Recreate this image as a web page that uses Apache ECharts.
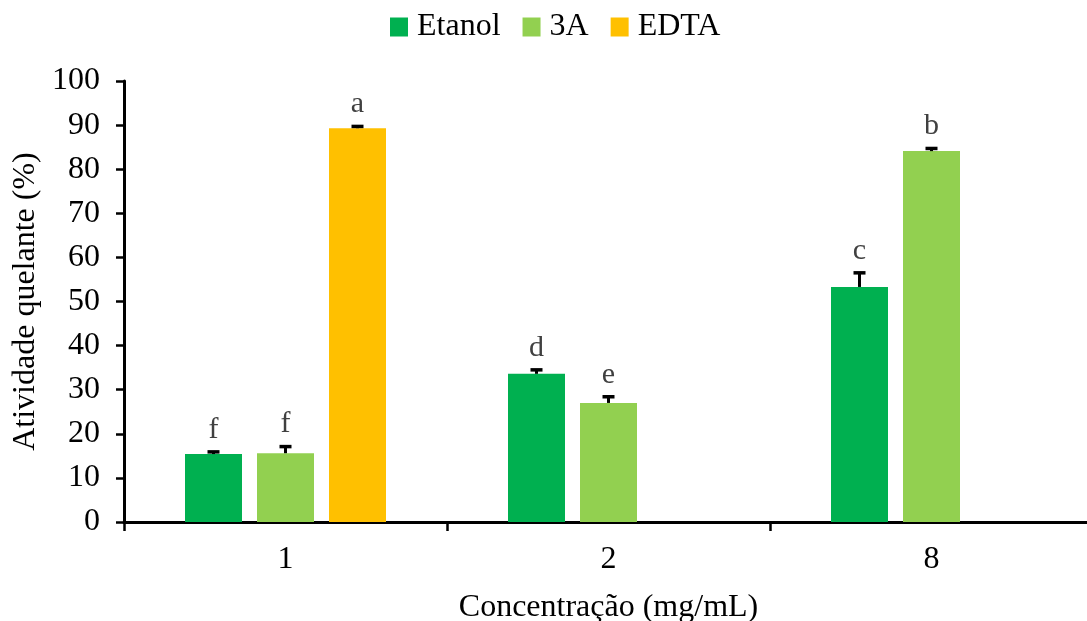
<!DOCTYPE html>
<html>
<head>
<meta charset="utf-8">
<script src="https://cdn.jsdelivr.net/npm/echarts@6/dist/echarts.min.js"></script>
<style>
  html, body { margin: 0; padding: 0; background: #fff; }
  #chart { width: 1087px; height: 621px; }
</style>
</head>
<body>
<div id="chart"></div>
<script>
// Concentrations (mg/mL)
const categories = ['1', '2', '8'];
const seriesNames = ['Etanol', '3A', 'EDTA'];
// Chelating activity (%) means
const etanol = [15.4, 33.6, 53.3];
const tresA = [15.6, 27.0, 84.1];
const edta = [89.3, null, null];
// Standard deviations (upper error bars)
const etanolErr = [0.5, 0.9, 3.2];
const tresAErr = [1.5, 1.4, 0.6];
const edtaErr = [0.4, null, null];
// Significance letters
const etanolLetters = ['f', 'd', 'c'];
const tresALetters = ['f', 'e', 'b'];
const edtaLetters = ['a', null, null];
const yTicks = { min: 0, max: 100, interval: 10 };

const colors = ['#00b050', '#92d050', '#ffc000'];
const BAR_W = 57;
const BAR_GAP = 15;
const FONT = '"Liberation Serif", "Times New Roman", serif';
const FS = 32;

const means = [etanol, tresA, edta];
const errs = [etanolErr, tresAErr, edtaErr];
const letters = [etanolLetters, tresALetters, edtaLetters];

function errorSeries(si) {
  const data = categories.map((c, i) =>
    means[si][i] == null ? null : [i, means[si][i], errs[si][i], letters[si][i]]);
  return {
    type: 'custom',
    name: seriesNames[si] + ' err',
    silent: true,
    z: 5,
    renderItem: function (params, api) {
      const x = api.value(0);
      const v = api.value(1);
      const e = api.value(2);
      const lab = api.value(3);
      const offset = (si - 1) * (BAR_W + BAR_GAP);
      const base = api.coord([x, v]);
      const top = api.coord([x, v + e]);
      const cx = base[0] + offset;
      const half = 6;
      return {
        type: 'group',
        children: [
          { type: 'line', shape: { x1: cx, y1: base[1], x2: cx, y2: top[1] },
            style: { stroke: '#000', lineWidth: 3 } },
          { type: 'line', shape: { x1: cx - half, y1: top[1], x2: cx + half, y2: top[1] },
            style: { stroke: '#000', lineWidth: 3.5 } },
          { type: 'text', x: cx, y: top[1] - 7,
            style: { text: lab, fill: '#404040', font: '30px ' + FONT,
                     textAlign: 'center', textVerticalAlign: 'bottom' } }
        ]
      };
    },
    data: data.filter(d => d !== null)
  };
}

const chart = echarts.init(document.getElementById('chart'), null, { renderer: 'canvas' });
chart.setOption({
  animation: false,
  backgroundColor: '#ffffff',
  textStyle: { fontFamily: FONT },
  legend: {
    data: seriesNames,
    top: 6,
    left: 385,
    itemWidth: 18,
    itemHeight: 19,
    itemGap: 22,
    icon: 'rect',
    textStyle: { fontSize: FS, color: '#000', fontFamily: FONT, padding: [0, 0, 0, 4] }
  },
  grid: { left: 124, top: 81, width: 969, height: 441, containLabel: false, outerBoundsMode: 'none' },
  xAxis: {
    type: 'category',
    data: categories,
    name: 'Concentração (mg/mL)',
    nameLocation: 'middle',
    nameGap: 70,
    nameTextStyle: { fontSize: FS, color: '#000', fontFamily: FONT },
    axisLine: { lineStyle: { color: '#000', width: 3 } },
    axisTick: { show: true, length: 9, lineStyle: { color: '#000', width: 2.5 } },
    axisLabel: { fontSize: FS, color: '#000', margin: 22, fontFamily: FONT },
    splitLine: { show: false }
  },
  yAxis: {
    type: 'value',
    min: yTicks.min,
    max: yTicks.max,
    interval: yTicks.interval,
    name: 'Atividade quelante (%)',
    nameLocation: 'middle',
    nameGap: 77,
    nameTextStyle: { fontSize: FS, color: '#000', fontFamily: FONT },
    axisLine: { show: true, lineStyle: { color: '#000', width: 3 } },
    axisTick: { show: true, length: 8, lineStyle: { color: '#000', width: 2.5 } },
    axisLabel: { fontSize: FS, color: '#000', margin: 24, fontFamily: FONT },
    splitLine: { show: false }
  },
  series: [
    { name: 'Etanol', type: 'bar', data: etanol, barWidth: BAR_W, barGap: (BAR_GAP / BAR_W * 100) + '%',
      itemStyle: { color: colors[0] }, z: 2 },
    { name: '3A', type: 'bar', data: tresA, barWidth: BAR_W,
      itemStyle: { color: colors[1] }, z: 2 },
    { name: 'EDTA', type: 'bar', data: edta, barWidth: BAR_W,
      itemStyle: { color: colors[2] }, z: 2 },
    errorSeries(0),
    errorSeries(1),
    errorSeries(2)
  ]
});
</script>
</body>
</html>
